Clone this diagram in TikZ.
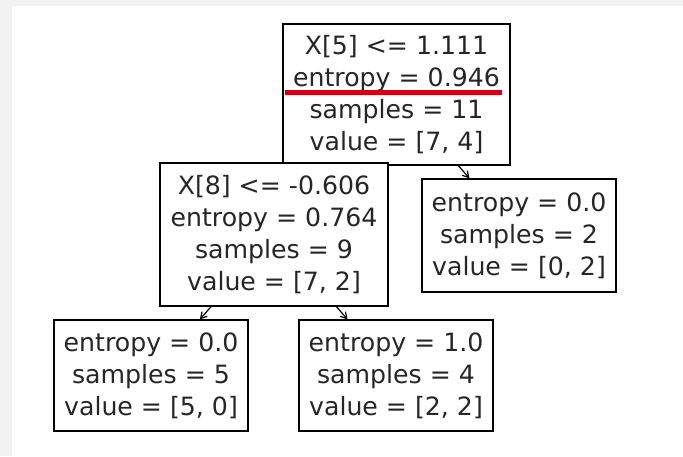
\documentclass[tikz,border=0pt]{standalone}
\usepackage{fontspec}
\setmainfont{DejaVu Sans}
\usetikzlibrary{backgrounds,arrows.meta}
\definecolor{panelgray}{HTML}{F2F2F2}
\definecolor{underred}{HTML}{CC0011}
\tikzset{
  treebox/.style={draw=black, line width=1.2pt, fill=white, inner sep=0pt, align=center,
    font=\fontsize{25.2}{32}\selectfont, text=black!85},
  treearrow/.style={-{Straight Barb[length=6pt,width=7pt]}, line width=1.2pt}
}
\begin{document}
\begin{tikzpicture}[x=1pt, y=-1pt]
    \useasboundingbox (0,0) rectangle (683,456);

    \node[treebox, minimum width=227pt, minimum height=141pt] (root) at (396.5, 94.5)
      {X[5] <= 1.111\\entropy = 0.946\\samples = 11\\value = [7, 4]};
    \node[treebox, minimum width=228pt, minimum height=143pt] (left) at (274, 234.5)
      {X[8] <= -0.606\\entropy = 0.764\\samples = 9\\value = [7, 2]};
    \node[treebox, minimum width=194pt, minimum height=113pt] (right) at (519, 235.5)
      {entropy = 0.0\\samples = 2\\value = [0, 2]};
    \node[treebox, minimum width=194pt, minimum height=111pt] (leftleft) at (151, 375.5)
      {entropy = 0.0\\samples = 5\\value = [5, 0]};
    \node[treebox, minimum width=194pt, minimum height=111pt] (leftright) at (396, 375.5)
      {entropy = 1.0\\samples = 4\\value = [2, 2]};

    \draw[underred, line width=4.5pt] (285, 92.5) -- (502, 92.5);

    \begin{pgfonlayer}{background}
      \fill[panelgray] (0, 0) rectangle (683, 456);
      \fill[white] (12, 6) rectangle (683, 456);
      \draw[treearrow] (root) -- (left);
      \draw[treearrow] (root) -- (right);
      \draw[treearrow] (left) -- (leftleft);
      \draw[treearrow] (left) -- (leftright);
    \end{pgfonlayer}
  \end{tikzpicture}
\end{document}
